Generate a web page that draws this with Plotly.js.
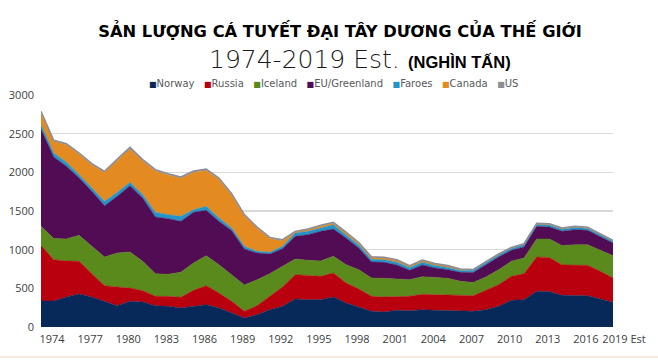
<!DOCTYPE html>
<html><head><meta charset="utf-8">
<script src="https://cdn.plot.ly/plotly-3.0.1.min.js"></script>
<style>html,body{margin:0;padding:0;background:#fff}#chart{width:658px;height:362px}</style>
</head><body><div id="chart"></div>
<script>
const years = [1974,1975,1976,1977,1978,1979,1980,1981,1982,1983,1984,1985,1986,1987,1988,1989,1990,1991,1992,1993,1994,1995,1996,1997,1998,1999,2000,2001,2002,2003,2004,2005,2006,2007,2008,2009,2010,2011,2012,2013,2014,2015,2016,2017,2018,2019];
const norway = [336,336,388,427,388,332,276,332,323,276,267,246,267,289,246,181,116,159,224,267,362,353,353,388,310,259,203,194,216,211,224,216,211,203,203,224,267,345,353,461,457,409,405,405,362,319];
const russia = [720,535,465,422,302,202,241,172,147,121,130,138,207,245,194,151,87,117,173,250,315,311,302,310,259,232,194,194,181,186,198,202,203,202,202,250,280,310,337,444,440,393,392,392,358,315];
const iceland = [246,274,285,336,353,371,440,466,379,293,284,323,354,388,366,345,340,336,293,267,202,198,198,216,237,250,237,241,228,215,229,224,215,186,170,173,194,194,202,233,241,250,268,268,271,288];
const euGreenland = [1258,1053,940,742,711,664,733,858,819,732,720,659,655,587,560,569,466,345,254,229,293,332,384,353,345,281,207,207,177,121,151,121,112,116,130,159,164,142,142,164,155,185,194,185,173,164];
const faroes = [56,52,51,43,43,56,51,43,43,61,52,65,34,51,43,34,34,21,22,30,44,43,43,56,39,38,35,35,35,35,35,32,30,25,25,25,25,25,30,25,25,28,28,25,25,22];
const canada = [158,149,227,265,300,373,416,434,435,533,512,491,482,465,500,426,395,300,178,71,11,20,25,20,30,25,25,25,25,20,22,20,18,12,10,10,10,8,10,10,12,12,12,12,10,8];
const us = [15,15,15,15,15,15,15,18,18,18,18,18,18,18,18,18,15,15,15,15,10,10,10,10,8,8,7,7,7,6,6,6,5,5,5,5,5,4,4,4,4,4,4,4,4,4];

const seriesNames = ['Norway','Russia','Iceland','EU/Greenland','Faroes','Canada','US'];
const seriesColors = ['#06295a','#b8000f','#5a8a1c','#520c54','#2594c8','#e38b20','#8b8d98'];
const seriesValues = [norway,russia,iceland,euGreenland,faroes,canada,us];

const tickYears = [1974,1977,1980,1983,1986,1989,1992,1995,1998,2001,2004,2007,2010,2013,2016,2019];
const tickLabels = ['1974','1977','1980','1983','1986','1989','1992','1995','1998','2001','2004','2007','2010','2013','2016','2019 Est'];
const yTicks = [0,500,1000,1500,2000,2500,3000];

const titleLine1 = 'SẢN LƯỢNG CÁ TUYẾT ĐẠI TÂY DƯƠNG CỦA THẾ GIỚI';
const titleLine2a = '1974-2019 Est.';
const titleLine2b = '(NGHÌN TẤN)';

const traces = seriesValues.map((vals, i) => ({
  type: 'scatter', mode: 'lines', x: years, y: vals, stackgroup: 'one',
  name: seriesNames[i], showlegend: false,
  fillcolor: seriesColors[i],
  line: {color: seriesColors[i], width: i === 6 ? 1.5 : 0.5, shape: 'linear'},
  hoverinfo: 'skip'
}));

const legendText = seriesNames.map((n, i) =>
  '<span style="color:' + seriesColors[i] + ';font-size:8px">■</span>' + n
).join('\u00a0\u00a0\u00a0');

// pixel helpers for paper coordinates (plot area: x 41..613, y 95..327)
const px = v => (v - 41) / 572;
const py = v => (327 - v) / 232;

const layout = {
  width: 658, height: 362,
  margin: {l: 41, r: 45, t: 95, b: 35, pad: 0},
  paper_bgcolor: '#ffffff', plot_bgcolor: '#ffffff',
  showlegend: false,
  title: {
    text: '<b>' + titleLine1 + '</b>',
    x: 340/658, xanchor: 'center', xref: 'container',
    y: 1 - 31/362, yanchor: 'middle', yref: 'container',
    font: {family: '"DejaVu Sans", sans-serif', size: 16.3, color: '#000000'}
  },
  xaxis: {
    range: [1974, 2019], tickmode: 'array', tickvals: tickYears, ticktext: tickLabels,
    showgrid: false, zeroline: false, showline: false, ticks: '',
    ticklabelshift: 11, ticklabelstandoff: 4,
    tickfont: {family: 'Open Sans, DejaVu Sans, sans-serif', size: 11, color: '#404040'},
    fixedrange: true
  },
  yaxis: {
    range: [0, 3000], tickmode: 'array', tickvals: yTicks,
    showgrid: true, gridcolor: '#d9d9d9', gridwidth: 1.3,
    zeroline: false, showline: false, ticks: '',
    ticklabelstandoff: 6,
    tickfont: {family: 'Open Sans, DejaVu Sans, sans-serif', size: 11, color: '#404040'},
    fixedrange: true
  },
  annotations: [
    {text: titleLine2a, xref: 'paper', yref: 'paper', x: px(402), y: py(59),
     xanchor: 'right', yanchor: 'middle', showarrow: false,
     font: {family: '"DejaVu Sans", sans-serif', size: 25, weight: 200, color: '#1a1a1a'}},
    {text: '<b>' + titleLine2b + '</b>', xref: 'paper', yref: 'paper', x: px(406), y: py(62),
     xanchor: 'left', yanchor: 'middle', showarrow: false,
     font: {family: '"Liberation Sans", Arial, sans-serif', size: 16.5, color: '#000000'}},
    {text: legendText, xref: 'paper', yref: 'paper', x: px(334), y: py(83),
     xanchor: 'center', yanchor: 'middle', showarrow: false,
     font: {family: '"DejaVu Sans", sans-serif', size: 10, color: '#595959'}}
  ],
  shapes: [
    {type: 'line', xref: 'paper', yref: 'paper', x0: px(0), x1: px(658),
     y0: py(357), y1: py(357), line: {color: '#f7e9dc', width: 2}}
  ]
};

Plotly.newPlot('chart', traces, layout, {displayModeBar: false, staticPlot: true});
</script></body></html>
